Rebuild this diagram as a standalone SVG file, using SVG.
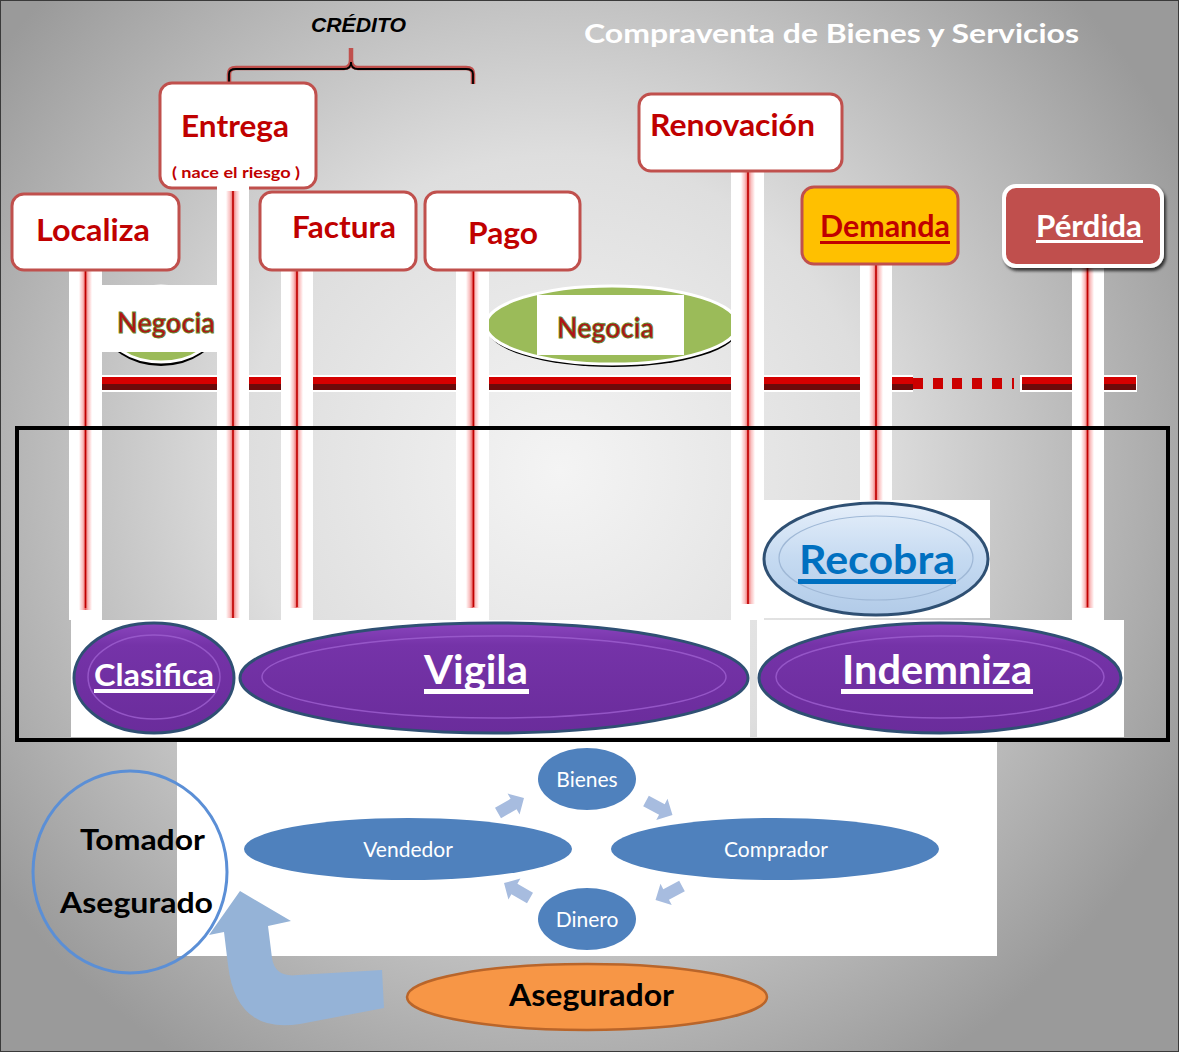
<svg xmlns="http://www.w3.org/2000/svg" width="1179" height="1052" viewBox="0 0 1179 1052">
<defs>
<radialGradient id="bg" cx="560" cy="470" r="700" gradientUnits="userSpaceOnUse">
<stop offset="0" stop-color="#f4f4f4"/>
<stop offset="0.45" stop-color="#dedede"/>
<stop offset="1" stop-color="#9a9a9a"/>
</radialGradient>
<linearGradient id="fuzz" x1="0" y1="0" x2="1" y2="0">
<stop offset="0" stop-color="#ff4040" stop-opacity="0"/>
<stop offset="0.25" stop-color="#f06060" stop-opacity="0.35"/>
<stop offset="0.5" stop-color="#e02020" stop-opacity="0.7"/>
<stop offset="0.75" stop-color="#f06060" stop-opacity="0.35"/>
<stop offset="1" stop-color="#ff4040" stop-opacity="0"/>
</linearGradient>
<linearGradient id="purple" x1="0" y1="0" x2="0" y2="1">
<stop offset="0" stop-color="#8a45bd"/>
<stop offset="0.2" stop-color="#7533a8"/>
<stop offset="1" stop-color="#6a2c9b"/>
</linearGradient>
<linearGradient id="lblue" x1="0" y1="0" x2="0" y2="1">
<stop offset="0" stop-color="#e6effa"/>
<stop offset="0.5" stop-color="#c5daf1"/>
<stop offset="1" stop-color="#b2cbe8"/>
</linearGradient>
<filter id="shadow" x="-10%" y="-10%" width="130%" height="140%">
<feDropShadow dx="2" dy="3" stdDeviation="1.5" flood-color="#000" flood-opacity="0.7"/>
</filter>
<style>
.box{fill:#fff;stroke:#c0504d;stroke-width:3}
.lbl{font-family:Lato,"Open Sans","Liberation Sans",sans-serif;font-weight:bold;fill:#c00000}
.wt{font-family:Lato,"Open Sans","Liberation Sans",sans-serif;font-weight:bold;fill:#fff}
.bk{font-family:Lato,"Open Sans","Liberation Sans",sans-serif;font-weight:bold;fill:#000}
.cyc{fill:#4f81bd}
.cyt{font-family:Lato,"Open Sans","Liberation Sans",sans-serif;fill:#fff;font-size:21px}
.strip{fill:#fff}
.fz{fill:url(#fuzz)}
.core{stroke:#c00000;stroke-width:1.6}
.barT{fill:#d40000}
.barB{fill:#6b0a0a}
.pur{fill:url(#purple);stroke:#2f5073;stroke-width:3}
.purin{fill:none;stroke:#9d5fd0;stroke-width:1.5;opacity:0.8}
.sarr{fill:#a7bcdf}
.neg{font-family:Lato,"Open Sans","Liberation Sans",sans-serif;font-weight:bold;font-size:28px;fill:#b01418;stroke:#5d8a2a;stroke-width:0.8}
</style>
</defs>

<rect x="0" y="0" width="1179" height="1052" fill="url(#bg)"/>
<rect x="0.5" y="0.5" width="1178" height="1051" fill="none" stroke="#3a3a3a" stroke-width="1"/>

<!-- white backgrounds -->
<rect x="71" y="620" width="679" height="117" fill="#fff"/>
<rect x="757" y="620" width="367" height="117" fill="#fff"/>
<rect x="764" y="500" width="226" height="118" fill="#fff"/>
<rect x="177" y="742" width="820" height="214" fill="#fff"/>

<!-- title -->
<text x="584" y="43" class="wt" font-size="27" textLength="495" lengthAdjust="spacingAndGlyphs">Compraventa de Bienes y Servicios</text>

<!-- credito brace -->
<g id="credito">
<path d="M229,84 V74 Q229,68 236,68 H344 Q351,68 351,60 V48 M351,60 Q351,68 358,68 H466 Q473,68 473,74 V84" fill="none" stroke="#c0504d" stroke-width="4.5"/>
<path d="M229,84 V74 Q229,69 236,69 H344 Q351,69 351,62 M351,62 Q351,69 358,69 H466 Q473,69 473,74 V84" fill="none" stroke="#000" stroke-width="1.8"/>
<text x="311" y="32" font-family="'Liberation Sans',Arial,sans-serif" font-style="italic" font-weight="bold" font-size="21" textLength="95" lengthAdjust="spacingAndGlyphs" fill="#000">CRÉDITO</text>
</g>

<!-- negocia ellipses -->
<g id="negocia1">
<ellipse cx="161" cy="327" rx="56" ry="39" fill="#000"/>
<ellipse cx="161" cy="324" rx="56" ry="38" fill="#9bbb59" stroke="#fff" stroke-width="3"/>
<rect x="101" y="285" width="116" height="67" fill="#fff"/>
<text x="117" y="333" class="neg" textLength="98" lengthAdjust="spacingAndGlyphs">Negocia</text>
</g>
<g id="negocia2">
<ellipse cx="613" cy="328" rx="126" ry="39" fill="#000"/>
<ellipse cx="612" cy="325" rx="126" ry="39" fill="#9bbb59" stroke="#fff" stroke-width="3"/>
<rect x="537" y="295" width="147" height="60" fill="#fff"/>
<text x="557" y="338" class="neg" textLength="97" lengthAdjust="spacingAndGlyphs">Negocia</text>
</g>

<!-- connectors: bar, poles, small arrows -->
<g id="connectors">
<g id="bar">
<rect x="100" y="375" width="118" height="17" fill="#fff"/>
<rect x="248" y="375" width="34" height="17" fill="#fff"/>
<rect x="312" y="375" width="145" height="17" fill="#fff"/>
<rect x="487" y="375" width="245" height="17" fill="#fff"/>
<rect x="763" y="375" width="98" height="17" fill="#fff"/>
<rect x="891" y="375" width="22" height="17" fill="#fff"/>
<rect x="1020" y="375" width="53" height="17" fill="#fff"/>
<rect x="1103" y="375" width="34" height="17" fill="#fff"/>
<g>
<rect x="102" y="377" width="115" height="7" class="barT"/><rect x="102" y="384" width="115" height="6" class="barB"/>
<rect x="249" y="377" width="32" height="7" class="barT"/><rect x="249" y="384" width="32" height="6" class="barB"/>
<rect x="313" y="377" width="143" height="7" class="barT"/><rect x="313" y="384" width="143" height="6" class="barB"/>
<rect x="489" y="377" width="242" height="7" class="barT"/><rect x="489" y="384" width="242" height="6" class="barB"/>
<rect x="764" y="377" width="96" height="7" class="barT"/><rect x="764" y="384" width="96" height="6" class="barB"/>
<rect x="892" y="377" width="21" height="7" class="barT"/><rect x="892" y="384" width="21" height="6" class="barB"/>
<rect x="1022" y="377" width="50" height="7" class="barT"/><rect x="1022" y="384" width="50" height="6" class="barB"/>
<rect x="1104" y="377" width="32" height="7" class="barT"/><rect x="1104" y="384" width="32" height="6" class="barB"/>
<rect x="913" y="378" width="10" height="11" fill="#cc0000"/>
<rect x="933" y="378" width="10" height="11" fill="#cc0000"/>
<rect x="952" y="378" width="10" height="11" fill="#cc0000"/>
<rect x="972" y="378" width="10" height="11" fill="#cc0000"/>
<rect x="992" y="378" width="10" height="11" fill="#cc0000"/>
<rect x="1012" y="378" width="2" height="11" fill="#cc0000"/>
</g>
</g>
<g id="poles">
<rect x="69" y="266" width="33" height="354" class="strip"/>
<rect x="79" y="268" width="13" height="342" class="fz"/>
<line x1="85.5" y1="268" x2="85.5" y2="608" class="core"/>

<rect x="217" y="186" width="32" height="434" class="strip"/>
<rect x="226" y="188" width="14" height="430" class="fz"/>
<line x1="233" y1="188" x2="233" y2="618" class="core"/>

<rect x="281" y="268" width="32" height="352" class="strip"/>
<rect x="290" y="270" width="13" height="338" class="fz"/>
<line x1="297" y1="270" x2="297" y2="607" class="core"/>

<rect x="456" y="268" width="33" height="352" class="strip"/>
<rect x="466" y="270" width="13" height="338" class="fz"/>
<line x1="473.5" y1="270" x2="473.5" y2="607" class="core"/>

<rect x="731" y="170" width="33" height="450" class="strip"/>
<rect x="741" y="172" width="14" height="432" class="fz"/>
<line x1="748" y1="172" x2="748" y2="604" class="core"/>

<rect x="860" y="262" width="32" height="238" class="strip"/>
<rect x="869" y="264" width="14" height="236" class="fz"/>
<line x1="876" y1="264" x2="876" y2="500" class="core"/>

<rect x="1072" y="262" width="32" height="358" class="strip"/>
<rect x="1081" y="264" width="13" height="344" class="fz"/>
<line x1="1087.5" y1="264" x2="1087.5" y2="607" class="core"/>
</g>
<g id="smallArrows">
<polygon points="0,-6 18,-6 18,-12 30,0 18,12 18,6 0,6" class="sarr" transform="translate(498,813) rotate(-30)"/>
<polygon points="0,-6 18,-6 18,-12 30,0 18,12 18,6 0,6" class="sarr" transform="translate(646,801) rotate(28)"/>
<polygon points="0,-6 18,-6 18,-12 30,0 18,12 18,6 0,6" class="sarr" transform="translate(682,886) rotate(152)"/>
<polygon points="0,-6 18,-6 18,-12 30,0 18,12 18,6 0,6" class="sarr" transform="translate(530,898) rotate(-150)"/>
</g>
<path id="bigArrow" d="M384,1008 L300,1024 Q236,1034 228,965 L224,932 L209,935 L240,891 L291,921 L268,926 L272,958 Q275,978 298,975 L382,970 Z" fill="#95b3d7"/>
</g>

<!-- top nodes -->
<g id="entrega">
<rect x="160" y="83" width="156" height="105" rx="12" class="box"/>
<text x="181" y="137" class="lbl" font-size="30" textLength="108" lengthAdjust="spacingAndGlyphs">Entrega</text>
<text x="172" y="178" class="lbl" font-size="15" textLength="128" lengthAdjust="spacingAndGlyphs">( nace el riesgo )</text>
</g>
<rect x="217" y="186" width="32" height="5" class="strip"/>
<g id="localiza">
<rect x="12" y="194" width="167" height="76" rx="12" class="box"/>
<text x="36" y="241" class="lbl" font-size="30" textLength="114" lengthAdjust="spacingAndGlyphs">Localiza</text>
</g>
<g id="factura">
<rect x="260" y="192" width="156" height="78" rx="12" class="box"/>
<text x="292" y="238" class="lbl" font-size="30" textLength="104" lengthAdjust="spacingAndGlyphs">Factura</text>
</g>
<g id="pago">
<rect x="425" y="192" width="155" height="78" rx="12" class="box"/>
<text x="468" y="244" class="lbl" font-size="30" textLength="70" lengthAdjust="spacingAndGlyphs">Pago</text>
</g>
<g id="renovacion">
<rect x="639" y="94" width="203" height="77" rx="12" class="box"/>
<text x="650" y="136" class="lbl" font-size="30" textLength="165" lengthAdjust="spacingAndGlyphs">Renovación</text>
</g>
<g id="demanda">
<rect x="802" y="187" width="156" height="77" rx="12" fill="#ffc000" stroke="#c0504d" stroke-width="3"/>
<text x="820" y="237" class="lbl" font-size="30" textLength="130" lengthAdjust="spacingAndGlyphs">Demanda</text>
<rect x="820" y="241" width="130" height="3" fill="#c00000"/>
</g>
<g id="perdida">
<rect x="1004" y="186" width="158" height="80" rx="12" fill="#c0504d" stroke="#fff" stroke-width="4" filter="url(#shadow)"/>
<text x="1036" y="237" class="wt" font-size="30" textLength="106" lengthAdjust="spacingAndGlyphs">Pérdida</text>
<rect x="1036" y="240" width="107" height="3" fill="#fff"/>
</g>

<!-- black frame -->
<rect x="17" y="428" width="1151" height="312" fill="none" stroke="#000" stroke-width="4"/>

<!-- Recobra -->
<g id="recobra">
<ellipse cx="876" cy="559" rx="112" ry="56" fill="url(#lblue)" stroke="#2f5073" stroke-width="3"/>
<ellipse cx="876" cy="558" rx="97" ry="42" fill="none" stroke="#9fb8d6" stroke-width="1.2"/>
<text x="799" y="574" font-family="Lato,'Open Sans','Liberation Sans',sans-serif" font-weight="bold" font-size="40" fill="#0070c0" textLength="156" lengthAdjust="spacingAndGlyphs">Recobra</text>
<rect x="798" y="579" width="158" height="5" fill="#0070c0"/>
</g>

<!-- purple row -->
<g id="clasifica">
<ellipse cx="154" cy="678" rx="80" ry="55" class="pur"/>
<ellipse cx="154" cy="677" rx="66" ry="42" class="purin"/>
<text x="94" y="686" class="wt" font-size="30" textLength="120" lengthAdjust="spacingAndGlyphs">Clasifica</text>
<rect x="94" y="689" width="121" height="4" fill="#fff"/>
</g>
<g id="vigila">
<ellipse cx="494" cy="678" rx="254" ry="55" class="pur"/>
<ellipse cx="494" cy="677" rx="232" ry="41" class="purin"/>
<text x="424" y="684" class="wt" font-size="40" textLength="104" lengthAdjust="spacingAndGlyphs">Vigila</text>
<rect x="424" y="689" width="105" height="5" fill="#fff"/>
</g>
<g id="indemniza">
<ellipse cx="940" cy="678" rx="181" ry="55" class="pur"/>
<ellipse cx="940" cy="677" rx="164" ry="41" class="purin"/>
<text x="842" y="684" class="wt" font-size="40" textLength="190" lengthAdjust="spacingAndGlyphs">Indemniza</text>
<rect x="841" y="689" width="192" height="5" fill="#fff"/>
</g>

<!-- cycle -->
<g id="bienes"><ellipse cx="587" cy="779" rx="49" ry="31" class="cyc"/><text x="587" y="787" class="cyt" text-anchor="middle">Bienes</text></g>
<g id="vendedor"><ellipse cx="408" cy="849" rx="164" ry="31" class="cyc"/><text x="408" y="857" class="cyt" text-anchor="middle">Vendedor</text></g>
<g id="comprador"><ellipse cx="775" cy="849" rx="164" ry="31" class="cyc"/><text x="776" y="857" class="cyt" text-anchor="middle">Comprador</text></g>
<g id="dinero"><ellipse cx="587" cy="919" rx="49" ry="31" class="cyc"/><text x="587" y="927" class="cyt" text-anchor="middle">Dinero</text></g>

<g id="tomador">
<ellipse cx="130" cy="872" rx="97" ry="101" fill="none" stroke="#5b8fd6" stroke-width="3"/>
<text x="80" y="850" class="bk" font-size="28" textLength="125" lengthAdjust="spacingAndGlyphs">Tomador</text>
<text x="60" y="913" class="bk" font-size="28" textLength="153" lengthAdjust="spacingAndGlyphs">Asegurado</text>
</g>

<g id="asegurador">
<ellipse cx="587" cy="997" rx="180" ry="33" fill="#f79646" stroke="#b9652a" stroke-width="2.5"/>
<text x="509" y="1006" class="bk" font-size="30" textLength="165" lengthAdjust="spacingAndGlyphs">Asegurador</text>
</g>
</svg>
